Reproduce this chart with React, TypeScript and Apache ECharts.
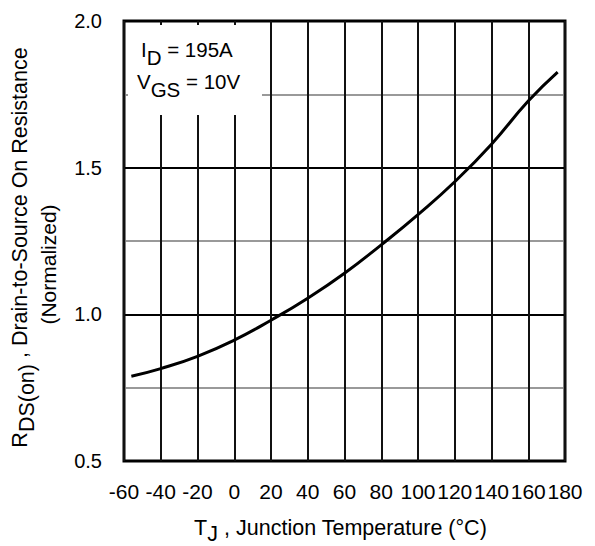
import React, { useEffect, useRef } from "react";
import * as echarts from "echarts";

const temperatures = [-56, -40, -20, 0, 20, 40, 60, 80, 100, 120, 140, 160, 176];
const rdsOnNormalized = [0.789, 0.815, 0.857, 0.912, 0.98, 1.055, 1.14, 1.237, 1.34, 1.452, 1.58, 1.727, 1.826];

const xMin = -60;
const xMax = 180;
const xStep = 20;
const yMin = 0.5;
const yMax = 2.0;
const yStep = 0.5;

const FONT = "Liberation Sans, Arial, Helvetica, sans-serif";

function richPair(size: number, shift: number) {
  return {
    n: { fontSize: size, fontFamily: FONT, fill: "#000", padding: [0, 0, shift, 0] },
    s: { fontSize: size, fontFamily: FONT, fill: "#000", padding: [shift, 0, 0, 0] },
  };
}

export default function App() {
  const ref = useRef<HTMLDivElement>(null);

  useEffect(() => {
    if (!ref.current) return;
    const chart = echarts.init(ref.current, undefined, { renderer: "svg" });
    const data = temperatures.map((t, i) => [t, rdsOnNormalized[i]]);

    chart.setOption({
      animation: false,
      backgroundColor: "#fff",
      grid: {
        left: 124,
        right: 30,
        top: 21,
        bottom: 85,
        show: true,
        borderColor: "#000",
        borderWidth: 3,
        backgroundColor: "transparent",
      },
      xAxis: {
        type: "value",
        min: xMin,
        max: xMax,
        interval: xStep,
        axisLine: { show: false },
        axisTick: { show: false },
        axisLabel: {
          color: "#000",
          fontSize: 21,
          fontFamily: FONT,
          margin: 20,
          interval: 0,
        },
        splitLine: { show: true, lineStyle: { color: "#111", width: 2 } },
      },
      yAxis: {
        type: "value",
        min: yMin,
        max: yMax,
        interval: yStep,
        axisLine: { show: false },
        axisTick: { show: false },
        axisLabel: {
          color: "#000",
          fontSize: 20,
          fontFamily: FONT,
          margin: 22,
          formatter: (v: number) => v.toFixed(1),
        },
        splitLine: { show: true, lineStyle: { color: "#000", width: 2 } },
        minorTick: { show: false, splitNumber: 2 },
        minorSplitLine: { show: true, lineStyle: { color: "#777", width: 1.5 } },
      },
      series: [
        {
          type: "line",
          data,
          smooth: true,
          symbol: "none",
          lineStyle: { color: "#000", width: 3 },
          z: 3,
        },
      ],
      graphic: [
        {
          type: "rect",
          z: 10,
          shape: { x: 128, y: 25, width: 134, height: 90 },
          style: { fill: "#fff" },
        },
        {
          type: "text",
          z: 11,
          x: 141,
          y: 53,
          style: {
            text: "{n|I}{s|D}{n| = 195A}",
            rich: richPair(20.5, 8),
            textAlign: "left",
            textVerticalAlign: "middle",
            verticalAlign: "middle",
          },
        },
        {
          type: "text",
          z: 11,
          x: 137,
          y: 85,
          style: {
            text: "{n|V}{s|GS}{n| = 10V}",
            rich: richPair(20.5, 8),
            textAlign: "left",
            textVerticalAlign: "middle",
            verticalAlign: "middle",
          },
        },
        {
          type: "text",
          z: 11,
          x: 340.5,
          y: 531,
          style: {
            text: "{n|T}{s|J}{n| , Junction Temperature (°C)}",
            rich: richPair(21.5, 6),
            textAlign: "center",
            textVerticalAlign: "middle",
            verticalAlign: "middle",
          },
        },
        {
          type: "text",
          z: 11,
          x: 23.5,
          y: 247.5,
          rotation: Math.PI / 2,
          style: {
            text: "{n|R}{s|DS(on)}{n| , Drain-to-Source On Resistance}",
            rich: richPair(21.5, 7),
            textAlign: "center",
            textVerticalAlign: "middle",
            verticalAlign: "middle",
          },
        },
        {
          type: "text",
          z: 11,
          x: 48,
          y: 264.5,
          rotation: Math.PI / 2,
          style: {
            text: "(Normalized)",
            fontSize: 21,
            fontFamily: FONT,
            fill: "#000",
            textAlign: "center",
            textVerticalAlign: "middle",
            verticalAlign: "middle",
          },
        },
      ],
    });

    return () => {
      chart.dispose();
    };
  }, []);

  return (
    <div
      ref={ref}
      style={{ position: "absolute", left: 0, top: 0, width: 595, height: 546, background: "#fff" }}
    />
  );
}
